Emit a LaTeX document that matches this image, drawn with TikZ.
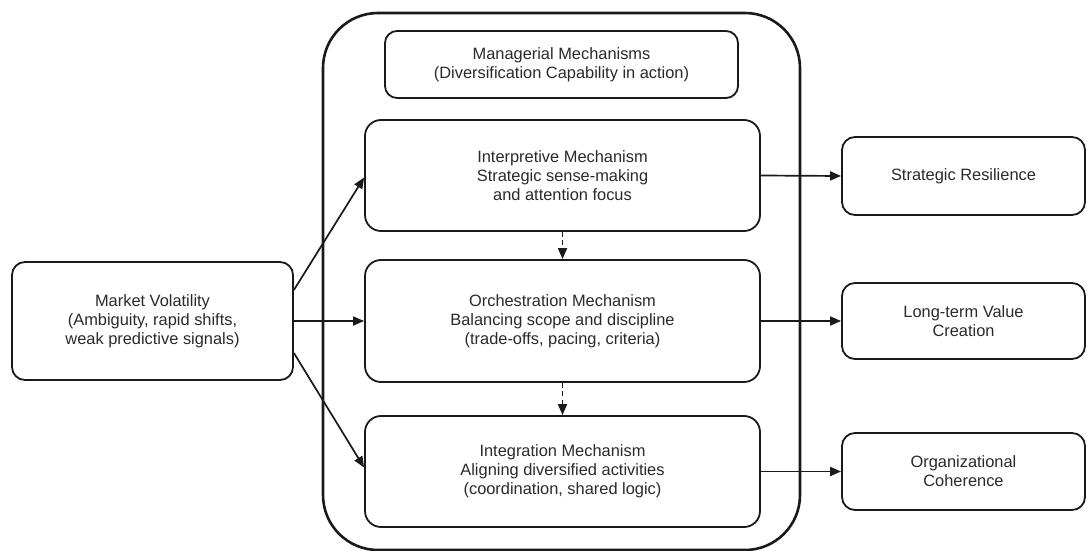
\documentclass[tikz,border=0pt]{standalone}
\usepackage{fontspec}
\setmainfont{Liberation Sans}
\usetikzlibrary{positioning, arrows.meta}
\definecolor{inkText}{HTML}{2A2A2A}
\definecolor{inkLine}{HTML}{1A1A1A}

\begin{document}
\begin{tikzpicture}[
  x=1pt, y=-1pt,
  box/.style={draw=inkLine, line width=1.8pt, rounded corners=13pt, fill=white,
    align=center, text=inkText, inner sep=0pt,
    font=\fontsize{16.4}{19}\selectfont},
  mech/.style={box, rounded corners=16pt, minimum width=395pt},
  outcome/.style={box, minimum width=243pt},
  frame/.style={draw=inkLine, line width=2.6pt, rounded corners=55pt, inner sep=0pt},
  flow/.style={inkLine, line width=1.7pt, -{Triangle[length=11pt, width=9pt]}},
  link/.style={flow, dash pattern=on 5pt off 3.5pt}
]
  %% --- area (unita': pixel del riferimento) ---
  \useasboundingbox (0,0) rectangle (1087,551);

  %% --- contenitore dei meccanismi ---
  \node[frame, minimum width=477pt, minimum height=537pt] (frame) at (561.5,281.5) {};

  %% --- nodi ---
  \node[box, minimum width=281pt, minimum height=118pt] (mv) at (152.5,321)
    {Market Volatility\\(Ambiguity, rapid shifts,\\weak predictive signals)};
  \node[box, rounded corners=12pt, minimum width=353pt, minimum height=67pt] (mgr) at (561.5,64.5)
    {Managerial Mechanisms\\(Diversification Capability in action)};
  \node[mech, minimum height=111pt] (interp) at (562.5,175.5)
    {Interpretive Mechanism\\Strategic sense-making\\and attention focus};
  \node[mech, minimum height=122pt] (orch) at (562.5,321)
    {Orchestration Mechanism\\Balancing scope and discipline\\(trade-offs, pacing, criteria)};
  \node[mech, minimum height=111pt] (integ) at (562.5,471.5)
    {Integration Mechanism\\Aligning diversified activities\\(coordination, shared logic)};
  \node[outcome, minimum height=78pt] (sr) at (963.5,176) {Strategic Resilience};
  \node[outcome, minimum height=76pt] (lt) at (963.5,321) {Long-term Value\\Creation};
  \node[outcome, minimum height=77pt] (oc) at (963.5,471.5) {Organizational\\Coherence};

  %% --- connettori ---
  \draw[flow] ([yshift=31pt]mv.east) -- ([yshift=-2pt]interp.west);
  \draw[flow] (mv.east) -- (orch.west);
  \draw[flow] ([yshift=-32pt]mv.east) -- ([yshift=4pt]integ.west);

  \draw[link] (interp.south) -- (orch.north);
  \draw[link] (orch.south) -- (integ.north);

  \draw[flow] (interp.east) -- (sr.west);
  \draw[flow] (orch.east) -- (lt.west);
  \draw[flow] (integ.east) -- (oc.west);
\end{tikzpicture}
\end{document}
